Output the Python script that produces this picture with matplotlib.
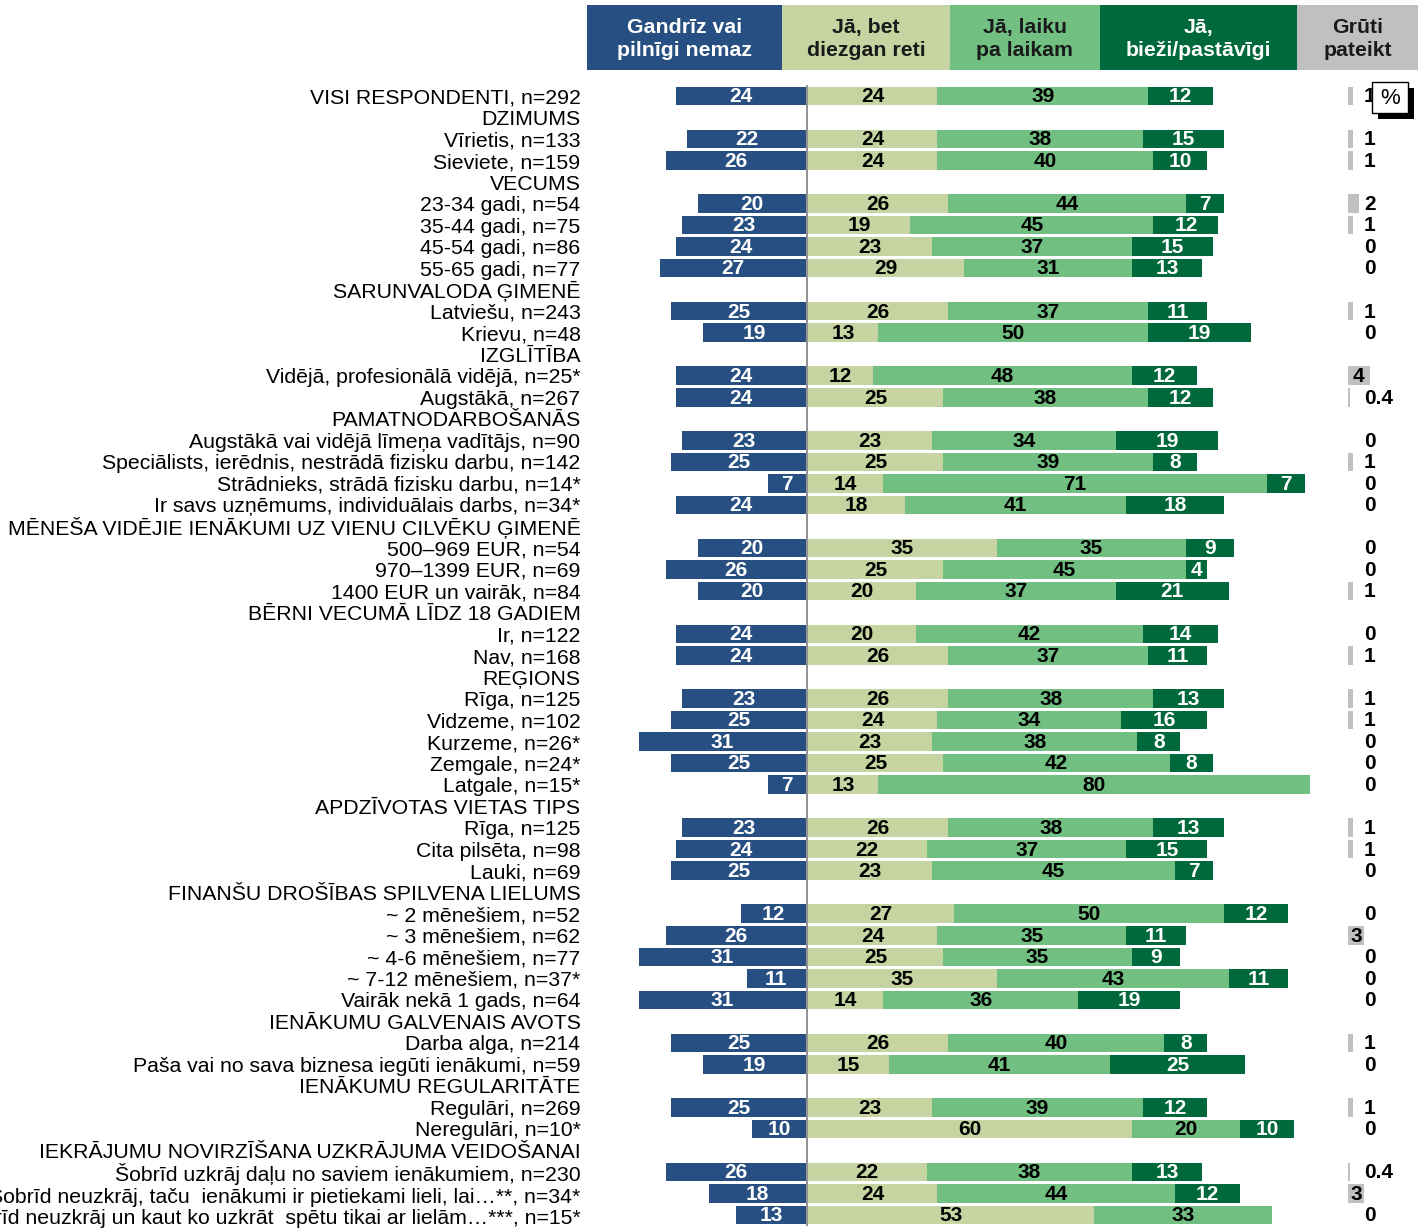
import numpy as np
import matplotlib
matplotlib.use("Agg")
import matplotlib.pyplot as plt
from matplotlib.patches import Rectangle

plt.rcParams["font.family"] = ["Liberation Sans", "DejaVu Sans"]

# %% Data

labels = [
    "VISI RESPONDENTI, n=292", "DZIMUMS", "Vīrietis, n=133", "Sieviete, n=159",
    "VECUMS", "23-34 gadi, n=54", "35-44 gadi, n=75", "45-54 gadi, n=86",
    "55-65 gadi, n=77", "SARUNVALODA ĢIMENĒ", "Latviešu, n=243", "Krievu, n=48",
    "IZGLĪTĪBA", "Vidējā, profesionālā vidējā, n=25*", "Augstākā, n=267",
    "PAMATNODARBOŠANĀS", "Augstākā vai vidējā līmeņa vadītājs, n=90",
    "Speciālists, ierēdnis, nestrādā fizisku darbu, n=142",
    "Strādnieks, strādā fizisku darbu, n=14*",
    "Ir savs uzņēmums, individuālais darbs, n=34*",
    "MĒNEŠA VIDĒJIE IENĀKUMI UZ VIENU CILVĒKU ĢIMENĒ",
    "500–969 EUR, n=54", "970–1399 EUR, n=69", "1400 EUR un vairāk, n=84",
    "BĒRNI VECUMĀ LĪDZ 18 GADIEM", "Ir, n=122", "Nav, n=168", "REĢIONS",
    "Rīga, n=125", "Vidzeme, n=102", "Kurzeme, n=26*", "Zemgale, n=24*",
    "Latgale, n=15*", "APDZĪVOTAS VIETAS TIPS", "Rīga, n=125",
    "Cita pilsēta, n=98", "Lauki, n=69", "FINANŠU DROŠĪBAS SPILVENA LIELUMS",
    "~ 2 mēnešiem, n=52", "~ 3 mēnešiem, n=62", "~ 4-6 mēnešiem, n=77",
    "~ 7-12 mēnešiem, n=37*", "Vairāk nekā 1 gads, n=64",
    "IENĀKUMU GALVENAIS AVOTS", "Darba alga, n=214",
    "Paša vai no sava biznesa iegūti ienākumi, n=59",
    "IENĀKUMU REGULARITĀTE", "Regulāri, n=269", "Neregulāri, n=10*",
    "IEKRĀJUMU NOVIRZĪŠANA UZKRĀJUMA VEIDOŠANAI",
    "Šobrīd uzkrāj daļu no saviem ienākumiem, n=230",
    "Šobrīd neuzkrāj, taču  ienākumi ir pietiekami lieli, lai…**, n=34*",
    "Šobrīd neuzkrāj un kaut ko uzkrāt  spētu tikai ar lielām…***, n=15*",
]

# None = section heading row
nemaz = [24, None, 22, 26, None, 20, 23, 24, 27, None, 25, 19, None, 24, 24,
         None, 23, 25, 7, 24, None, 20, 26, 20, None, 24, 24, None, 23, 25, 31,
         25, 7, None, 23, 24, 25, None, 12, 26, 31, 11, 31, None, 25, 19, None,
         25, 10, None, 26, 18, 13]
reti = [24, None, 24, 24, None, 26, 19, 23, 29, None, 26, 13, None, 12, 25,
        None, 23, 25, 14, 18, None, 35, 25, 20, None, 20, 26, None, 26, 24, 23,
        25, 13, None, 26, 22, 23, None, 27, 24, 25, 35, 14, None, 26, 15, None,
        23, 60, None, 22, 24, 53]
laiku = [39, None, 38, 40, None, 44, 45, 37, 31, None, 37, 50, None, 48, 38,
         None, 34, 39, 71, 41, None, 35, 45, 37, None, 42, 37, None, 38, 34, 38,
         42, 80, None, 38, 37, 45, None, 50, 35, 35, 43, 36, None, 40, 41, None,
         39, 20, None, 38, 44, 33]
biezi = [12, None, 15, 10, None, 7, 12, 15, 13, None, 11, 19, None, 12, 12,
         None, 19, 8, 7, 18, None, 9, 4, 21, None, 14, 11, None, 13, 16, 8,
         8, 0, None, 13, 15, 7, None, 12, 11, 9, 11, 19, None, 8, 25, None,
         12, 10, None, 13, 12, 0]
grutil = [1, None, 1, 1, None, 2, 1, 0, 0, None, 1, 0, None, 4, 0.4,
          None, 0, 1, 0, 0, None, 0, 0, 1, None, 0, 1, None, 1, 1, 0,
          0, 0, None, 1, 1, 0, None, 0, 3, 0, 0, 0, None, 1, 0, None,
          1, 0, None, 0.4, 3, 0]

headers = ["Gandrīz vai\npilnīgi nemaz", "Jā, bet\ndiezgan reti",
           "Jā, laiku\npa laikam", "Jā,\nbieži/pastāvīgi", "Grūti\npateikt"]

c_blue = "#284f82"
c_light = "#c5d4a0"
c_mid = "#72bf82"
c_dark = "#00693c"
c_gray = "#c0c0c0"

# %% Figure

W, H = 1422, 1232
fig = plt.figure(figsize=(W / 100, H / 100), dpi=100)

px_unit = 5.4
x0_px, x1_px = 586, 1422
c_px = 806
ax = fig.add_axes([x0_px / W, 1 - 1225.8 / H, (x1_px - x0_px) / W,
                   (1225.8 - 85.2) / H])
ax.set_xlim(-(c_px - x0_px) / px_unit, (x1_px - c_px) / px_unit)
ax.set_ylim(len(labels) - 0.5, -0.5)

bh = 0.86
lab_font = dict(fontweight="bold", fontsize=15, ha="center", va="center")

for i in range(len(labels)):
    if nemaz[i] is None:
        continue
    b = nemaz[i]
    ax.barh(i, -b, height=bh, color=c_blue, lw=0)
    ax.text(-b / 2, i + 0.04, str(b), color="white", **lab_font)
    left = 0.35
    for v, col, tc in [(reti[i], c_light, "black"), (laiku[i], c_mid, "black"),
                       (biezi[i], c_dark, "white")]:
        if v > 0:
            ax.barh(i, v, left=left, height=bh, color=col, lw=0)
            ax.text(left + v / 2, i + 0.04, str(v), color=tc, **lab_font)
        left += v
    g = grutil[i]
    gx = (1348 - c_px) / px_unit
    if g >= 3:
        ax.barh(i, g, left=gx, height=bh, color=c_gray, lw=0)
        ax.text(gx + g / 2, i + 0.04, str(g), color="black", **lab_font)
    else:
        if g > 0:
            ax.barh(i, max(g, 0.3), left=gx, height=bh, color=c_gray, lw=0)
        gs = "0.4" if g == 0.4 else str(int(g))
        ax.text((1364 - c_px) / px_unit, i + 0.04, gs, color="black",
                **{**lab_font, "ha": "left"})

ax.axvline(0.15, color="#7f7f7f", lw=1.2, zorder=3)

ax.set_yticks(range(len(labels)))
ax.set_yticklabels(labels, fontsize=15.3)
ax.tick_params(axis="y", length=0, pad=4)
ax.set_xticks([])
for s in ax.spines.values():
    s.set_visible(False)

# %% Header boxes

edges = [587, 782, 950, 1100, 1297, 1418]
hcols = [c_blue, c_light, c_mid, c_dark, c_gray]
htext = ["white", "#1a1a1a", "#1a1a1a", "white", "#1a1a1a"]
for k in range(5):
    fig.patches.append(Rectangle((edges[k] / W, 1 - 70 / H),
                                 (edges[k + 1] - edges[k]) / W, 65 / H,
                                 transform=fig.transFigure, color=hcols[k],
                                 lw=0))
    fig.text((edges[k] + edges[k + 1]) / 2 / W, 1 - 39 / H, headers[k],
             ha="center", va="center", color=htext[k], fontsize=15.3,
             fontweight="bold", linespacing=1.3)

# "%" box with shadow
fig.patches.append(Rectangle((1378 / W, 1 - 119 / H), 36 / W, 31 / H,
                             transform=fig.transFigure, color="black", lw=0))
fig.patches.append(Rectangle((1372 / W, 1 - 113 / H), 36 / W, 31 / H,
                             transform=fig.transFigure, facecolor="white",
                             edgecolor="black", lw=1))
fig.text(1390 / W, 1 - 98 / H, "%", ha="center", va="center", fontsize=16)

plt.savefig("out.png", dpi=100)
